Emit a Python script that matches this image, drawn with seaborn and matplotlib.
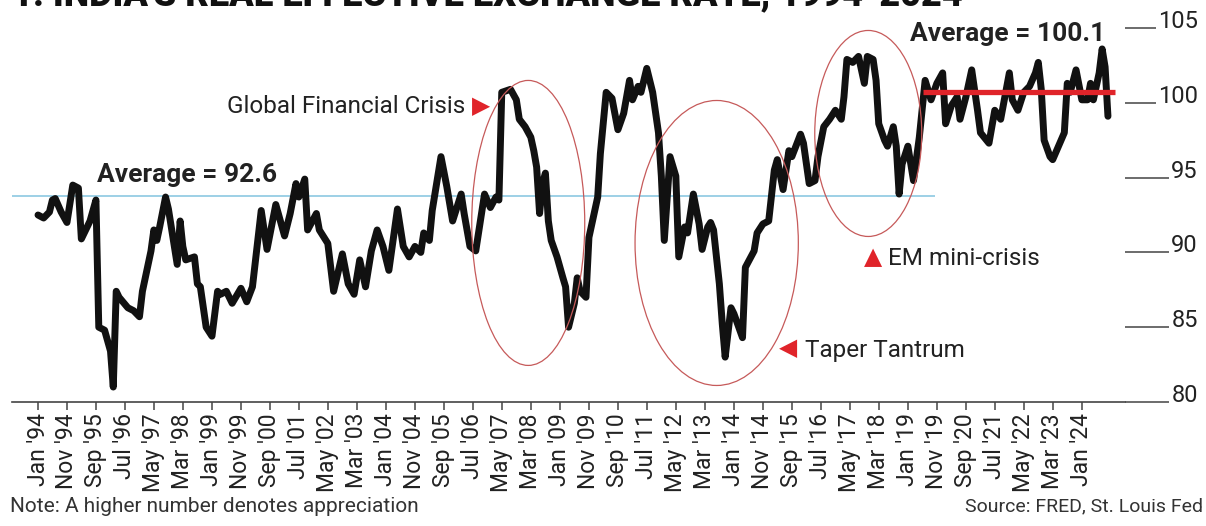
import matplotlib
matplotlib.use("Agg")
import matplotlib.pyplot as plt
import matplotlib.dates as mdates
from matplotlib.patches import Ellipse
import pandas as pd
import seaborn as sns

# monthly REER readings taken off the chart
dates = [
    "1994-01", "1994-03", "1994-05", "1994-06", "1994-07", "1994-09", "1994-11", "1995-01", "1995-03", "1995-04",
    "1995-05", "1995-07", "1995-09", "1995-10", "1995-12", "1996-02", "1996-03", "1996-04", "1996-05", "1996-08",
    "1996-10", "1996-12", "1997-01", "1997-04", "1997-05", "1997-06", "1997-07", "1997-09", "1997-10", "1998-01",
    "1998-02", "1998-03", "1998-04", "1998-07", "1998-08", "1998-09", "1998-11", "1999-01", "1999-03", "1999-04",
    "1999-06", "1999-08", "1999-11", "2000-01", "2000-03", "2000-06", "2000-08", "2000-11", "2001-02", "2001-04",
    "2001-06", "2001-07", "2001-09", "2001-10", "2002-01", "2002-02", "2002-05", "2002-07", "2002-10", "2002-12",
    "2003-02", "2003-04", "2003-06", "2003-08", "2003-10", "2003-12", "2004-02", "2004-05", "2004-07", "2004-09",
    "2004-11", "2005-01", "2005-02", "2005-04", "2005-05", "2005-08", "2005-10", "2005-12", "2006-03", "2006-04",
    "2006-06", "2006-08", "2006-10", "2006-11", "2007-01", "2007-03", "2007-04", "2007-05", "2007-08", "2007-10",
    "2007-11", "2008-01", "2008-03", "2008-04", "2008-05", "2008-06", "2008-07", "2008-08", "2008-09", "2008-10",
    "2008-12", "2009-02", "2009-03", "2009-04", "2009-06", "2009-07", "2009-08", "2009-10", "2009-11", "2010-02",
    "2010-03", "2010-05", "2010-07", "2010-09", "2010-11", "2011-01", "2011-02", "2011-04", "2011-05", "2011-07",
    "2011-09", "2011-11", "2011-12", "2012-01", "2012-03", "2012-05", "2012-06", "2012-08", "2012-09", "2012-11",
    "2013-01", "2013-02", "2013-04", "2013-05", "2013-06", "2013-08", "2013-09", "2013-10", "2013-12", "2014-01",
    "2014-04", "2014-05", "2014-08", "2014-09", "2014-11", "2015-01", "2015-03", "2015-04", "2015-06", "2015-08",
    "2015-09", "2015-12", "2016-01", "2016-03", "2016-05", "2016-06", "2016-08", "2016-10", "2016-12", "2017-02",
    "2017-03", "2017-04", "2017-06", "2017-08", "2017-10", "2017-11", "2018-01", "2018-02", "2018-03", "2018-05",
    "2018-06", "2018-08", "2018-09", "2018-10", "2018-11", "2019-01", "2019-02", "2019-03", "2019-05", "2019-07",
    "2019-09", "2019-11", "2020-01", "2020-02", "2020-04", "2020-06", "2020-07", "2020-09", "2020-11", "2021-01",
    "2021-02", "2021-05", "2021-07", "2021-09", "2021-12", "2022-01", "2022-03", "2022-05", "2022-07", "2022-09",
    "2022-10", "2022-11", "2022-12", "2023-02", "2023-03", "2023-05", "2023-07", "2023-08", "2023-09", "2023-11",
    "2024-01", "2024-03", "2024-04", "2024-05", "2024-07", "2024-08", "2024-09", "2024-10",
]
reer = [
    92.5, 92.3, 92.7, 93.5, 93.6, 92.7, 92.0, 94.5, 94.3, 90.9,
    91.3, 92.1, 93.5, 85.0, 84.8, 83.4, 81.0, 87.4, 87.0, 86.3,
    86.1, 85.7, 87.4, 90.1, 91.5, 90.8, 91.7, 93.7, 92.9, 89.2,
    92.1, 90.4, 89.5, 89.7, 87.9, 87.7, 85.0, 84.4, 87.4, 87.2,
    87.4, 86.6, 87.6, 86.7, 87.7, 92.8, 90.2, 93.2, 91.1, 92.6,
    94.6, 93.7, 94.9, 91.5, 92.6, 91.5, 90.6, 87.4, 89.9, 87.9,
    87.2, 89.5, 87.7, 90.1, 91.5, 90.4, 88.8, 92.9, 90.4, 89.7,
    90.4, 90.0, 91.3, 90.8, 92.8, 96.4, 94.4, 92.1, 93.9, 92.6,
    90.4, 90.1, 92.6, 93.9, 93.0, 93.7, 93.5, 100.7, 100.9, 100.2,
    98.9, 98.4, 97.7, 96.8, 95.7, 92.6, 94.6, 95.3, 92.1, 90.8,
    89.7, 88.3, 87.7, 85.0, 86.6, 88.3, 87.4, 87.0, 91.0, 93.7,
    96.6, 100.7, 100.3, 98.2, 99.3, 101.5, 100.2, 101.1, 100.7, 102.3,
    100.7, 98.0, 95.1, 90.8, 96.4, 95.1, 89.7, 91.7, 91.3, 93.9,
    91.9, 90.2, 91.7, 92.0, 91.5, 87.9, 85.2, 83.0, 86.3, 85.9,
    84.3, 89.0, 90.1, 91.3, 91.9, 92.1, 95.5, 96.2, 94.2, 96.8,
    96.4, 97.9, 97.3, 94.6, 94.8, 96.4, 98.4, 98.9, 99.5, 98.9,
    100.4, 102.9, 102.7, 103.1, 101.3, 103.1, 102.9, 101.5, 98.6, 97.5,
    97.1, 98.4, 97.1, 93.9, 95.9, 97.1, 95.9, 94.8, 97.7, 101.5,
    100.2, 101.3, 102.0, 98.6, 99.8, 100.4, 98.9, 100.4, 102.2, 99.5,
    98.0, 97.3, 99.5, 98.9, 102.0, 100.2, 99.5, 100.7, 101.1, 102.0,
    102.7, 100.9, 97.5, 96.4, 96.2, 97.1, 98.0, 101.3, 100.7, 102.2,
    100.2, 100.2, 101.3, 100.2, 102.0, 103.6, 102.4, 99.1,
]

# average lines as they sit on the chart, with their labels
avg_early_level = 93.8
avg_early_span = ("1993-04-03", "2019-10-12")
avg_early_label = "Average = 92.6"
avg_recent_level = 100.75
avg_recent_span = ("2019-06-08", "2024-12-14")
avg_recent_label = "Average = 100.1"

# circled episodes: centre date, centre value, width in days, height in index points
episodes = [
    ("2008-02-03", 91.97, 1186, 19.05),
    ("2013-07-04", 90.63, 1714, 19.05),
    ("2017-11-11", 97.95, 1123, 13.77),
]

title = "1. INDIA'S REAL EFFECTIVE EXCHANGE RATE, 1994-2024"
note = "Note: A higher number denotes appreciation"
source = "Source: FRED, St. Louis Fed"

df = pd.DataFrame({"date": pd.to_datetime(dates), "reer": reer})

sns.set_theme(style="white")
plt.rcParams["font.family"] = ["Roboto", "DejaVu Sans"]

fig = plt.figure(figsize=(12.06, 5.26), dpi=100)
ax = fig.add_axes([12 / 1206, (526 - 402) / 526, (1125 - 12) / 1206, 374 / 526])

ax.hlines(avg_early_level, pd.Timestamp(avg_early_span[0]), pd.Timestamp(avg_early_span[1]),
          color="#8cc8e2", lw=1.2, zorder=1)
sns.lineplot(data=df, x="date", y="reer", color="#111111", lw=5.0, ax=ax, zorder=2,
             solid_joinstyle="round", solid_capstyle="round")
ax.hlines(avg_recent_level, pd.Timestamp(avg_recent_span[0]), pd.Timestamp(avg_recent_span[1]),
          color="#e0242a", lw=3.8, zorder=3)

for c, v, w, h in episodes:
    ax.add_patch(Ellipse((mdates.date2num(pd.Timestamp(c)), v), w, h, fill=False,
                         edgecolor="#c65a5a", lw=0.9, zorder=4, clip_on=False))

red = "#e0242a"
dark = "#222222"
txt = dict(fontsize=17.5, color=dark, va="center")
tri = dict(ha="center", va="center", fontsize=17, color=red, family="DejaVu Sans")
ax.text(pd.Timestamp("2006-04-10"), 99.75, "Global Financial Crisis", ha="right", **txt)
ax.text(pd.Timestamp("2006-09-25"), 99.8, "\u25B6", **tri)
ax.text(pd.Timestamp("2017-12-31"), 89.66, "\u25B2", **tri)
ax.text(pd.Timestamp("2018-06-06"), 89.6, "EM mini-crisis", ha="left", **txt)
ax.text(pd.Timestamp("2015-07-22"), 83.58, "\u25C0", **tri)
ax.text(pd.Timestamp("2016-01-16"), 83.44, "Taper Tantrum", ha="left", **txt)
ax.text(pd.Timestamp("1995-09-11"), 95.2, avg_early_label, ha="left", va="center",
        fontsize=19, fontweight="bold", color=dark)
ax.text(pd.Timestamp("2019-01-23"), 104.57, avg_recent_label, ha="left", va="center",
        fontsize=19, fontweight="bold", color=dark, clip_on=False)

ax.set_xlim(pd.Timestamp("1993-04-03"), pd.Timestamp("2025-03-29"))
ax.set_ylim(80, 105)
ax.set_xlabel("")
ax.set_ylabel("")

xt = pd.date_range("1994-01-01", "2024-01-01", freq="10MS")
ax.set_xticks(xt)
ax.set_xticklabels([d.strftime("%b '%y") for d in xt], rotation=90)
ax.tick_params(axis="x", bottom=True, length=6, width=1.1, color="#444444", pad=2,
               labelsize=16.5, labelcolor=dark)

ax.yaxis.tick_right()
ax.set_yticks([80, 85, 90, 95, 100, 105])
ax.tick_params(axis="y", right=True, length=52, width=1.1, color="#444444", pad=0.5,
               labelsize=17, labelcolor=dark)
for t in ax.yaxis.get_major_ticks():
    t.label2.set_ha("right")
    t.label2.set_va("baseline")
    t.label2.set_bbox(dict(facecolor="white", edgecolor="none", pad=1.5))

for s in ["top", "left", "right"]:
    ax.spines[s].set_visible(False)
ax.spines["bottom"].set_color("#444444")
ax.spines["bottom"].set_linewidth(1.2)

# the headline is cropped at the top edge in the source image
fig.text(12 / 1206, 1 - 5 / 526, title, fontsize=26, fontweight="black", va="baseline",
         color="#111111")
fig.text(10 / 1206, 1 - 506 / 526, note, fontsize=15, va="center", color="#333333")
fig.text(1203 / 1206, 1 - 506 / 526, source, fontsize=14, va="center", ha="right",
         color="#333333")

fig.savefig("out.png", dpi=100, facecolor="white")
